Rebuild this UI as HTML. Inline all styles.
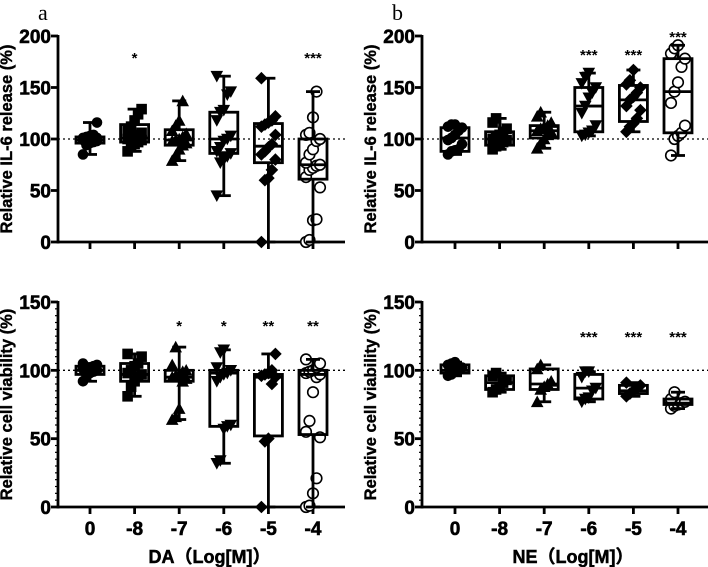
<!DOCTYPE html>
<html><head><meta charset="utf-8"><style>
html,body{margin:0;padding:0;background:#fff;}
svg{display:block;font-family:"Liberation Sans",Arial,"Noto Sans CJK SC",sans-serif;}
</style></head><body>
<svg id="fig" width="708" height="567" viewBox="0 0 708 567"></svg>
<script>
const categories = ["0","-8","-7","-6","-5","-4"];
const shapes = ["circle","square","tri","tridown","diamond","open"];
// box stats [min,q1,median,q3,max]
const boxA1 = [[85,96,99,102,116],[88,97,101,114,129],[79,94,99,109,137],[45,86,100,126,161],[0,77,93,115,159],[0,61,75,100,146]];
const boxB1 = [[85,88,101,111,114],[90,94,100,107,120],[91,101,108,113,126],[103,107,132,150,164],[107,117,138,152,167],[84,106,146,178,191]];
const boxA2 = [[92,97,100,103,105],[81,92,97,105,112],[64,92,95,100,117],[32,59,98,100,115],[0,52,95,97,112],[0,53,97,100,108]];
const boxB2 = [[96,98,100,104,106],[84,86,91,96,98],[77,86,90,101,104],[77,79,87,97,99],[81,83,85,89,91],[72,75,76,79,84]];
const ptsA1 = [[85,94,96,97,98,99,99,100,100,101,101,102,103,104,116],[88,92,95,97,99,100,101,102,104,106,108,112,118,124,129],[79,84,90,94,96,98,99,100,102,105,108,113,118,137],[45,77,80,83,86,88,92,98,100,103,118,126,128,143,146,161],[0,60,62,70,80,85,88,92,95,104,112,114,116,118,122,159],[0,2,21,22,53,63,70,72,74,75,77,85,90,98,100,104,106,121,146]];
const ptsB1 = [[85,88,89,90,95,99,101,104,108,111,112,114,114],[90,93,95,97,99,100,102,104,107,110,116,120],[91,96,100,104,107,108,110,112,113,116,122,126],[103,104,106,108,113,125,132,140,145,150,154,160,164],[107,112,115,120,128,132,138,141,145,150,153,157,167],[84,100,103,106,113,135,146,155,170,178,183,188,191]];
const ptsA2 = [[92,96,98,99,100,101,101,102,103,104,105],[81,88,92,95,97,98,100,103,105,110,112],[64,66,72,92,94,95,96,97,99,100,104,117],[32,34,57,59,60,92,95,97,98,100,102,113,115],[0,48,50,90,95,96,97,98,100,112],[0,1,10,21,51,55,63,84,95,97,98,99,100,102,105,108]];
const ptsB2 = [[96,97,99,100,102,104,105,106],[84,86,88,91,93,96,98],[77,86,88,90,92,101,104],[77,79,80,85,87,95,99,99],[81,83,85,87,89,91],[72,74,75,76,77,79,84]];
const sigA1 = ["","*","","","","***"];
const sigB1 = ["","","","***","***","***"];
const sigA2 = ["","","*","*","**","**"];
const sigB2 = ["","","","***","***","***"];
const ticksTop = [0,50,100,150,200];
const ticksBot = [0,50,100,150];

const NS="http://www.w3.org/2000/svg";
const svg=document.getElementById('fig');
function mk(tag,attrs,parent){const e=document.createElementNS(NS,tag);for(const k in attrs)e.setAttribute(k,attrs[k]);(parent||svg).appendChild(e);return e;}

function panel(id,cfg){
  const g=mk('g',{});
  
  
  const y=v=>cfg.yBot-(v/cfg.ymax)*(cfg.yBot-cfg.yTop);
  const x=i=>cfg.x1+i*44.6;
  const rl=mk('line',{x1:cfg.x0,x2:cfg.xEnd,y1:y(100),y2:y(100),stroke:'#000','stroke-width':1.3,'stroke-dasharray':'2,3'},g);
  
  
  const ya=mk('line',{x1:cfg.x0,x2:cfg.x0,y1:cfg.yTop-1,y2:cfg.yBot+1.5,stroke:'#000','stroke-width':2.8},g);
  
  
  const xa=mk('line',{x1:cfg.x0-1,x2:cfg.xEnd,y1:cfg.yBot,y2:cfg.yBot,stroke:'#000','stroke-width':2.8},g);
  
  
  if(cfg.minor){for(let v=0;v<=cfg.ymax;v+=5){mk('line',{x1:cfg.x0-3,x2:cfg.x0,y1:y(v),y2:y(v),stroke:'#000','stroke-width':1.2},g);}}
  cfg.ticks.forEach(v=>{
    mk('line',{x1:cfg.x0-7,x2:cfg.x0,y1:y(v),y2:y(v),stroke:'#000','stroke-width':2.8},g);
    const t=mk('text',{x:cfg.x0-7,y:y(v)+7,'text-anchor':'end','font-size':19,'font-weight':'bold',stroke:'#000','stroke-width':0.6},g);
    t.textContent=v;
    
    
  });
  const yt=mk('text',{transform:`translate(${cfg.x0-46},${(cfg.yTop+cfg.yBot)/2}) rotate(-90)`,'text-anchor':'middle','font-size':16.5,'font-weight':'bold',stroke:'#000','stroke-width':0.4},g);
  yt.textContent=cfg.ytitle;
  
  
  categories.forEach((c,i)=>{
    mk('line',{x1:x(i),x2:x(i),y1:cfg.yBot,y2:cfg.yBot+7,stroke:'#000','stroke-width':2.8},g);
    if(cfg.xlabels){
      const t=mk('text',{x:x(i),y:cfg.yBot+28,'text-anchor':'middle','font-size':19,'font-weight':'bold',stroke:'#000','stroke-width':0.6},g);
      t.textContent=c;
      
      
    }
    const b=cfg.box[i], cx=x(i), w=28;
    const bg=mk('g',{},g);
    
    
    cfg.pts[i].forEach((v,k)=>{
      const px=cx+((k%5)-2)*3.5, py=y(v), s=shapes[i], r=5.3;
      let m;
      if(s==='circle') m=mk('circle',{cx:px,cy:py,r:r,fill:'#000'},bg);
      else if(s==='open') m=mk('circle',{cx:px,cy:py,r:r,fill:'#fff',stroke:'#000','stroke-width':1.6},bg);
      else if(s==='square') m=mk('rect',{x:px-r,y:py-r,width:2*r,height:2*r,fill:'#000'},bg);
      else if(s==='tri') m=mk('polygon',{points:`${px},${py-r-1} ${px-r-1},${py+r} ${px+r+1},${py+r}`,fill:'#000'},bg);
      else if(s==='tridown') m=mk('polygon',{points:`${px},${py+r+1} ${px-r-1},${py-r} ${px+r+1},${py-r}`,fill:'#000'},bg);
      else m=mk('polygon',{points:`${px},${py-r-1} ${px+r+1},${py} ${px},${py+r+1} ${px-r-1},${py}`,fill:'#000'},bg);
      
      
    });
    mk('line',{x1:cx,x2:cx,y1:y(b[0]),y2:y(b[1]),stroke:'#000','stroke-width':2.8},bg);
    mk('line',{x1:cx,x2:cx,y1:y(b[3]),y2:y(b[4]),stroke:'#000','stroke-width':2.8},bg);
    mk('line',{x1:cx-7,x2:cx+7,y1:y(b[0]),y2:y(b[0]),stroke:'#000','stroke-width':2.8},bg);
    mk('line',{x1:cx-7,x2:cx+7,y1:y(b[4]),y2:y(b[4]),stroke:'#000','stroke-width':2.8},bg);
    mk('rect',{x:cx-w/2,y:y(b[3]),width:w,height:y(b[1])-y(b[3]),fill:'none',stroke:'#000','stroke-width':2.8},bg);
    mk('line',{x1:cx-w/2,x2:cx+w/2,y1:y(b[2]),y2:y(b[2]),stroke:'#000','stroke-width':2.8},bg);
    if(cfg.sig[i]){
      const sy=(i===5&&cfg.sigHigh)?cfg.sigHigh:cfg.sigY;
      const t=mk('text',{x:cx,y:sy,'text-anchor':'middle','font-size':15,'font-weight':'bold'},g);
      t.textContent=cfg.sig[i];
      
      
    }
  });
  if(cfg.xtitle){
    const t=mk('text',{x:(cfg.x0+cfg.xEnd)/2+8,y:563,'text-anchor':'middle','font-size':18,'font-weight':'bold',stroke:'#000','stroke-width':0.5},g);
    t.textContent=cfg.xtitle;
    
    
  }
}
panel('panel-a-il6',{x0:58,xEnd:345,x1:90,yTop:36,yBot:242,ymax:200,ticks:ticksTop,box:boxA1,pts:ptsA1,sig:sigA1,sigY:63,ytitle:'Relative IL-6 release (%)'});
panel('panel-b-il6',{x0:422,xEnd:708,x1:455,yTop:36,yBot:242,ymax:200,ticks:ticksTop,box:boxB1,pts:ptsB1,sig:sigB1,sigY:60,sigHigh:42,ytitle:'Relative IL-6 release (%)'});
panel('panel-a-viability',{x0:58,xEnd:345,x1:90,yTop:302,yBot:507,ymax:150,ticks:ticksBot,box:boxA2,pts:ptsA2,sig:sigA2,sigY:331,minor:true,xlabels:true,xtitle:'DA（Log[M]）',ytitle:'Relative cell viability (%)'});
panel('panel-b-viability',{x0:422,xEnd:708,x1:455,yTop:302,yBot:507,ymax:150,ticks:ticksBot,box:boxB2,pts:ptsB2,sig:sigB2,sigY:342,minor:true,xlabels:true,xtitle:'NE（Log[M]）',ytitle:'Relative cell viability (%)'});
const la=mk('text',{x:38,y:20,'font-size':22,'font-family':'Liberation Serif,serif'});
la.textContent='a';


const lb=mk('text',{x:392,y:20,'font-size':22,'font-family':'Liberation Serif,serif'});
lb.textContent='b';


</script>
</body></html>
